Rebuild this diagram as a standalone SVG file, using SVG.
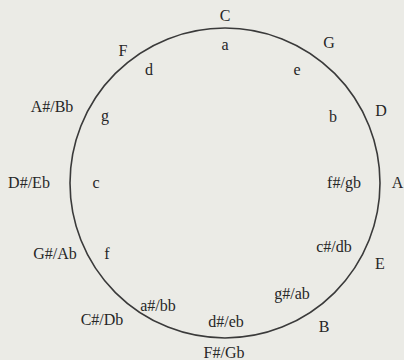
<svg xmlns="http://www.w3.org/2000/svg" width="404" height="360" viewBox="0 0 404 360">
<style>
text{font-family:"Liberation Serif","Times New Roman",serif;font-size:16px;fill:#262626;text-anchor:middle}
.ring{fill:none;stroke:#3a3a3a;stroke-width:1.6}
</style>
<rect width="404" height="360" fill="#ebebe6"/>
<g id="connectors">
<circle class="ring" cx="225" cy="183" r="155"/>
</g>
<g id="major">
<g id="n-C"><text x="225" y="21">C</text></g>
<g id="n-G"><text x="329" y="48">G</text></g>
<g id="n-D"><text x="381" y="116">D</text></g>
<g id="n-A"><text x="397.5" y="188">A</text></g>
<g id="n-E"><text x="380" y="269">E</text></g>
<g id="n-B"><text x="324" y="332">B</text></g>
<g id="n-FsGb"><text x="224" y="358">F#/Gb</text></g>
<g id="n-CsDb"><text x="102" y="325">C#/Db</text></g>
<g id="n-GsAb"><text x="55" y="259">G#/Ab</text></g>
<g id="n-DsEb"><text x="29" y="188">D#/Eb</text></g>
<g id="n-AsBb"><text x="52" y="112">A#/Bb</text></g>
<g id="n-F"><text x="123" y="56">F</text></g>
</g>
<g id="minor">
<g id="n-a"><text x="225" y="50">a</text></g>
<g id="n-e"><text x="297" y="75">e</text></g>
<g id="n-b"><text x="333" y="122">b</text></g>
<g id="n-fsgb"><text x="344" y="188">f#/gb</text></g>
<g id="n-csdb"><text x="334" y="252">c#/db</text></g>
<g id="n-gsab"><text x="292" y="299">g#/ab</text></g>
<g id="n-dseb"><text x="226" y="327">d#/eb</text></g>
<g id="n-asbb"><text x="158" y="311">a#/bb</text></g>
<g id="n-f"><text x="107" y="259">f</text></g>
<g id="n-c"><text x="96" y="188">c</text></g>
<g id="n-g"><text x="105" y="121">g</text></g>
<g id="n-d"><text x="149" y="75">d</text></g>
</g>
</svg>
